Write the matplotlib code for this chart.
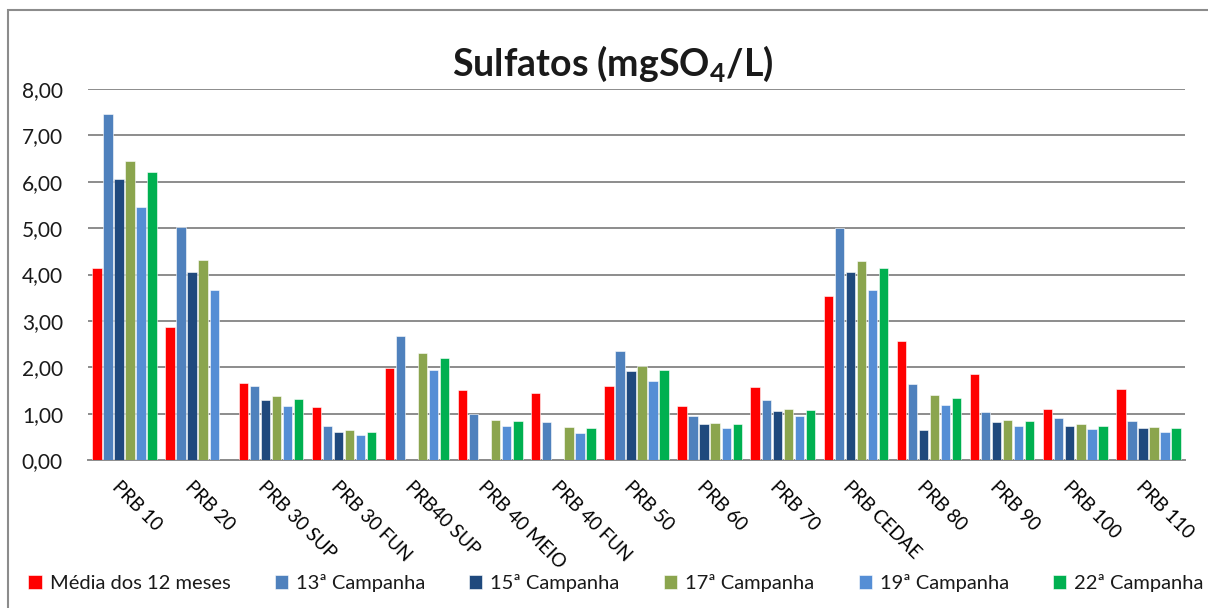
"""Sulfatos por ponto de coleta: média de 12 meses e campanhas."""

import numpy as np
import matplotlib

matplotlib.use("Agg")
import matplotlib.pyplot as plt
from matplotlib.patches import Rectangle
from matplotlib.ticker import FuncFormatter

INK = "#1a1a1a"
GRID = "#8c8c8c"

plt.rcParams.update({
    "font.family": ["Lato", "DejaVu Sans"],
    "mathtext.fontset": "custom",
    "mathtext.rm": "Lato",
    "mathtext.bf": "Lato:bold",
    "text.color": INK,
})

pontos = ["PRB 10", "PRB 20", "PRB 30 SUP", "PRB 30 FUN", "PRB40 SUP",
          "PRB 40 MEIO", "PRB 40 FUN", "PRB 50", "PRB 60", "PRB 70",
          "PRB CEDAE", "PRB 80", "PRB 90", "PRB 100", "PRB 110"]

series = ["Média dos 12 meses", "13ª Campanha", "15ª Campanha",
          "17ª Campanha", "19ª Campanha", "22ª Campanha"]
cores = ["#ff0000", "#4f81bd", "#1f497d", "#8ba54e", "#558ed5", "#00b050"]

nan = np.nan
media_12 = [4.14, 2.86, 1.66, 1.14, 1.98, 1.52, 1.45, 1.60, 1.16, 1.58,
            3.54, 2.57, 1.86, 1.11, 1.53]
camp_13 = [7.47, 5.02, 1.60, 0.74, 2.68, 1.00, 0.82, 2.36, 0.95, 1.30,
           5.01, 1.63, 1.04, 0.90, 0.85]
camp_15 = [6.07, 4.06, 1.30, 0.61, nan, nan, nan, 1.92, 0.77, 1.06,
           4.06, 0.64, 0.82, 0.74, 0.69]
camp_17 = [6.44, 4.32, 1.37, 0.64, 2.31, 0.87, 0.71, 2.02, 0.80, 1.11,
           4.30, 1.40, 0.87, 0.77, 0.72]
camp_19 = [5.46, 3.67, 1.17, 0.54, 1.94, 0.74, 0.58, 1.71, 0.69, 0.95,
           3.67, 1.19, 0.74, 0.67, 0.61]
camp_22 = [6.20, nan, 1.32, 0.61, 2.20, 0.84, 0.69, 1.94, 0.77, 1.08,
           4.14, 1.34, 0.85, 0.74, 0.69]

valores = [media_12, camp_13, camp_15, camp_17, camp_19, camp_22]

fig = plt.figure(figsize=(12.08, 6.08), dpi=100)
ax = fig.add_axes([0.0728, 0.2434, 0.9082, 0.6102])

x = np.arange(len(pontos))
passo = 0.151
largura = 0.128
for i, (nome, cor, v) in enumerate(zip(series, cores, valores)):
    ax.bar(x + (i - 2.5) * passo, v, width=largura, color=cor,
           edgecolor="white", linewidth=0.4, label=nome, zorder=3)

ax.set_xlim(-0.5, len(pontos) - 0.5)
ax.set_ylim(0, 8)
ax.set_yticks(np.arange(0, 9, 1))
ax.yaxis.set_major_formatter(FuncFormatter(lambda v, _: f"{v:.2f}".replace(".", ",")))
ax.grid(axis="y", color=GRID, linewidth=1.4, zorder=0)
ax.tick_params(axis="y", length=0, pad=18, labelsize=15, colors=INK)
ax.tick_params(axis="x", length=0)
for s in ["top", "right", "left"]:
    ax.spines[s].set_visible(False)
ax.spines["bottom"].set_color(GRID)
ax.spines["bottom"].set_linewidth(1.4)

ax.set_xticks(x - 0.05)
ax.set_xticklabels(pontos, rotation=-45, ha="left", va="top",
                   rotation_mode="anchor", fontsize=13.5)
ax.tick_params(axis="x", pad=13)

fig.text(0.507, 0.895, r"Sulfatos (mgSO$_\mathbf{4}$/L)", ha="center",
         va="center", fontsize=27, fontweight="bold")

fig.legend(loc="center", bbox_to_anchor=(0.51, 0.041), ncol=6,
           frameon=False, fontsize=14.5, handlelength=0.65,
           handleheight=0.75, handletextpad=0.4, columnspacing=2.2)

fig.patches.append(Rectangle((8 / 1208, -0.1), 1.2, 1.1 - 10 / 608,
                             transform=fig.transFigure, fill=False,
                             edgecolor=GRID, linewidth=1.5))

fig.savefig("out.png", dpi=100)
